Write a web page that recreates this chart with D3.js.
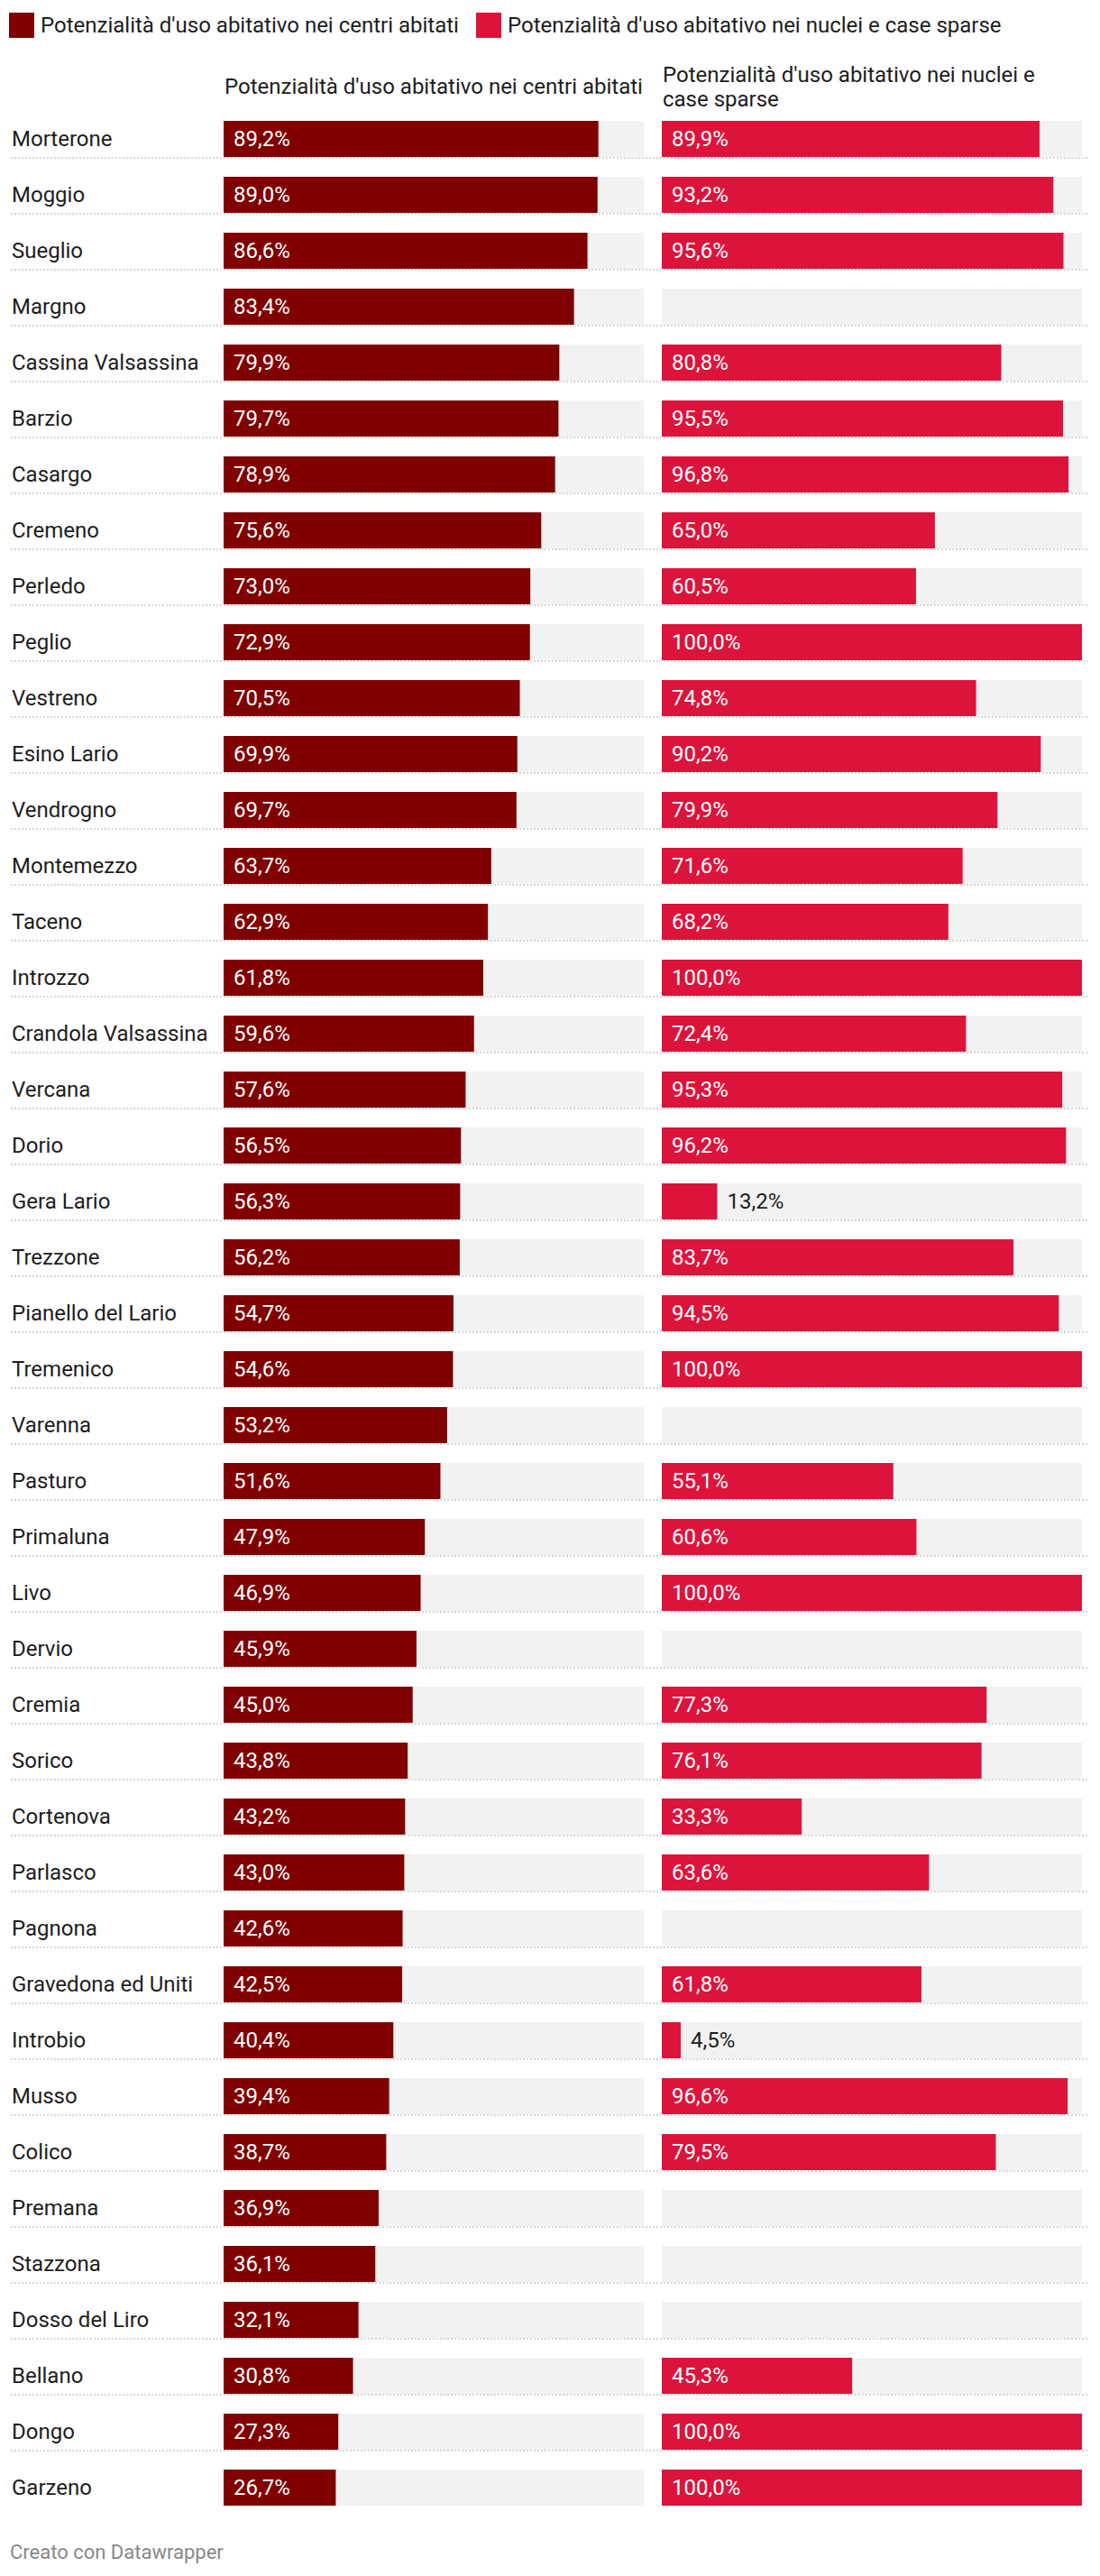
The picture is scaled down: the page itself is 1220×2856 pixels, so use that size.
<!DOCTYPE html>
<html>
<head>
<meta charset="utf-8">
<script src="https://cdn.jsdelivr.net/npm/d3@7"></script>
<style>
  body { margin: 0; background: #fff; }
  svg { display: block; font-family: Roboto, "Noto Sans", sans-serif; }
</style>
</head>
<body>
<svg id="chart" width="1220" height="2856"></svg>
<script>
const categories = ["Morterone","Moggio","Sueglio","Margno","Cassina Valsassina","Barzio","Casargo","Cremeno","Perledo","Peglio","Vestreno","Esino Lario","Vendrogno","Montemezzo","Taceno","Introzzo","Crandola Valsassina","Vercana","Dorio","Gera Lario","Trezzone","Pianello del Lario","Tremenico","Varenna","Pasturo","Primaluna","Livo","Dervio","Cremia","Sorico","Cortenova","Parlasco","Pagnona","Gravedona ed Uniti","Introbio","Musso","Colico","Premana","Stazzona","Dosso del Liro","Bellano","Dongo","Garzeno"];
const centri = [89.2,89.0,86.6,83.4,79.9,79.7,78.9,75.6,73.0,72.9,70.5,69.9,69.7,63.7,62.9,61.8,59.6,57.6,56.5,56.3,56.2,54.7,54.6,53.2,51.6,47.9,46.9,45.9,45.0,43.8,43.2,43.0,42.6,42.5,40.4,39.4,38.7,36.9,36.1,32.1,30.8,27.3,26.7];
const nuclei = [89.9,93.2,95.6,null,80.8,95.5,96.8,65.0,60.5,100.0,74.8,90.2,79.9,71.6,68.2,100.0,72.4,95.3,96.2,13.2,83.7,94.5,100.0,null,55.1,60.6,100.0,null,77.3,76.1,33.3,63.6,null,61.8,4.5,96.6,79.5,null,null,null,45.3,100.0,100.0];
const seriesNames = ["Potenzialità d'uso abitativo nei centri abitati", "Potenzialità d'uso abitativo nei nuclei e case sparse"];
const headerLines = [["Potenzialità d'uso abitativo nei centri abitati"], ["Potenzialità d'uso abitativo nei nuclei e", "case sparse"]];
const colors = ["#800000", "#dc143c"];
const footer = "Creato con Datawrapper";

const svg = d3.select("#chart");
const FS = 24;
const textColor = "#1d1d1d";

// legend
const leg = svg.append("g");
const legX = [10, 528];
seriesNames.forEach((s, i) => {
  leg.append("rect").attr("x", legX[i]).attr("y", 14).attr("width", 28).attr("height", 28).attr("fill", colors[i]);
  leg.append("text").attr("x", legX[i] + 35).attr("y", 28).attr("dy", "0.35em")
    .attr("font-size", FS).attr("fill", textColor).text(s);
});

// scales
const y = d3.scaleBand().domain(categories).range([124, 124 + 62 * categories.length]).paddingInner(0).paddingOuter(0);
const barH = 40;
const colStart = [248, 734];
const colW = 466;
const xs = colStart.map(s => d3.scaleLinear().domain([0, 100]).range([s, s + colW]));

// headers
headerLines.forEach((lines, i) => {
  const n = lines.length;
  const t = svg.append("text").attr("font-size", FS).attr("fill", textColor);
  lines.forEach((ln, j) => {
    t.append("tspan").attr("x", colStart[i] + 1).attr("y", 104 - (n - 1) * 13.5 + j * 27).text(ln);
  });
});

// separators
categories.forEach((c, k) => {
  if (k === 0) return;
  const yy = y(c) - 11;
  svg.append("line").attr("x1", 12).attr("x2", 1208).attr("y1", yy).attr("y2", yy)
    .attr("stroke", "#d6d6d6").attr("stroke-width", 2).attr("stroke-dasharray", "2,2");
});

// row labels
svg.append("g").selectAll("text").data(categories).join("text")
  .attr("x", 13).attr("y", d => y(d) + 10 + barH / 2).attr("dy", "0.35em")
  .attr("font-size", FS).attr("fill", textColor).text(d => d);

const fmt = v => d3.format(".1f")(v).replace(".", ",") + "%";

[centri, nuclei].forEach((vals, i) => {
  const x = xs[i];
  const g = svg.append("g");
  categories.forEach((c, k) => {
    const top = y(c) + 10;
    g.append("rect").attr("x", x(0)).attr("y", top).attr("width", x(100) - x(0)).attr("height", barH).attr("fill", "#f2f2f2");
    const v = vals[k];
    if (v == null) return;
    g.append("rect").attr("x", x(0)).attr("y", top).attr("width", x(v) - x(0)).attr("height", barH).attr("fill", colors[i]);
    const t = g.append("text").attr("y", top + barH / 2).attr("dy", "0.35em").attr("font-size", FS).text(fmt(v));
    const w = t.node().getComputedTextLength();
    const bw = x(v) - x(0);
    if (w + 22 <= bw) {
      t.attr("x", x(0) + 11).attr("fill", "#fff");
    } else {
      t.attr("x", x(v) + 11).attr("fill", textColor);
    }
  });
});

svg.append("text").attr("x", 11).attr("y", 2837).attr("font-size", 22).attr("fill", "#888").text(footer);
</script>
</body>
</html>
